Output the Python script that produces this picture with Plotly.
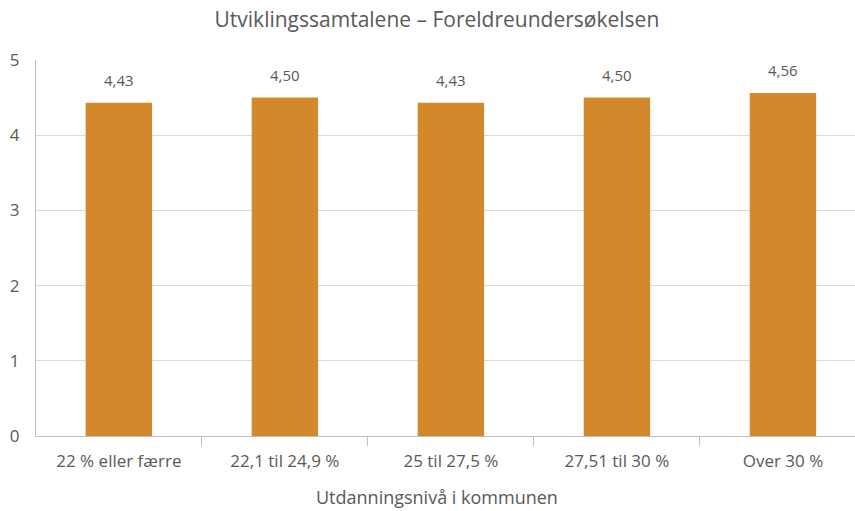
import plotly.graph_objects as go

categories = ["22 % eller færre", "22,1 til 24,9 %", "25 til 27,5 %", "27,51 til 30 %", "Over 30 %"]
values = [4.43, 4.50, 4.43, 4.50, 4.56]
y_ticks = [0, 1, 2, 3, 4, 5]

text_gray = "#595959"
bar_color = "#D3892B"

fig = go.Figure()
fig.add_trace(go.Bar(
    x=categories,
    y=values,
    width=0.4,
    marker=dict(color=bar_color, line=dict(width=0)),
    hoverinfo="skip",
))

# value labels above the bars
for c, v in zip(categories, values):
    fig.add_annotation(
        x=c, y=v, text=f"{v:.2f}".replace(".", ","),
        showarrow=False, yanchor="bottom", yshift=11,
        font=dict(family="Open Sans", size=15, color=text_gray),
    )

# x-axis title
fig.add_annotation(
    text="Utdanningsnivå i kommunen",
    xref="paper", yref="paper", x=0.49, y=-0.162,
    xanchor="center", yanchor="middle", showarrow=False,
    font=dict(family="Open Sans", size=18, color=text_gray),
)

fig.update_layout(
    width=855, height=511,
    margin=dict(l=36, r=0, t=60, b=75),
    paper_bgcolor="white",
    plot_bgcolor="white",
    showlegend=False,
    font=dict(family="Open Sans", color=text_gray),
    title=dict(
        text="Utviklingssamtalene – Foreldreundersøkelsen",
        x=0.511, xanchor="center", y=0.962, yanchor="middle",
        font=dict(family="Open Sans", size=21, color=text_gray),
    ),
    xaxis=dict(
        type="category",
        # start just inside the first boundary so no tick is drawn at the left edge
        range=[-0.499, 4.434],
        tickson="boundaries",
        ticks="outside", ticklen=9, tickcolor="#bfbfbf", tickwidth=1,
        ticklabelstandoff=10,
        showline=True, linecolor="#bfbfbf", linewidth=1,
        showgrid=False,
        tickfont=dict(size=17, color=text_gray),
    ),
    yaxis=dict(
        range=[0, 5],
        tickvals=y_ticks,
        ticktext=[str(t) for t in y_ticks],
        showline=True, linecolor="#bfbfbf", linewidth=1,
        showgrid=True, gridcolor="#d9d9d9", gridwidth=1,
        zeroline=False,
        ticks="", ticklabelstandoff=12,
        tickfont=dict(size=17, color=text_gray),
    ),
)

fig.write_html("out.html")
